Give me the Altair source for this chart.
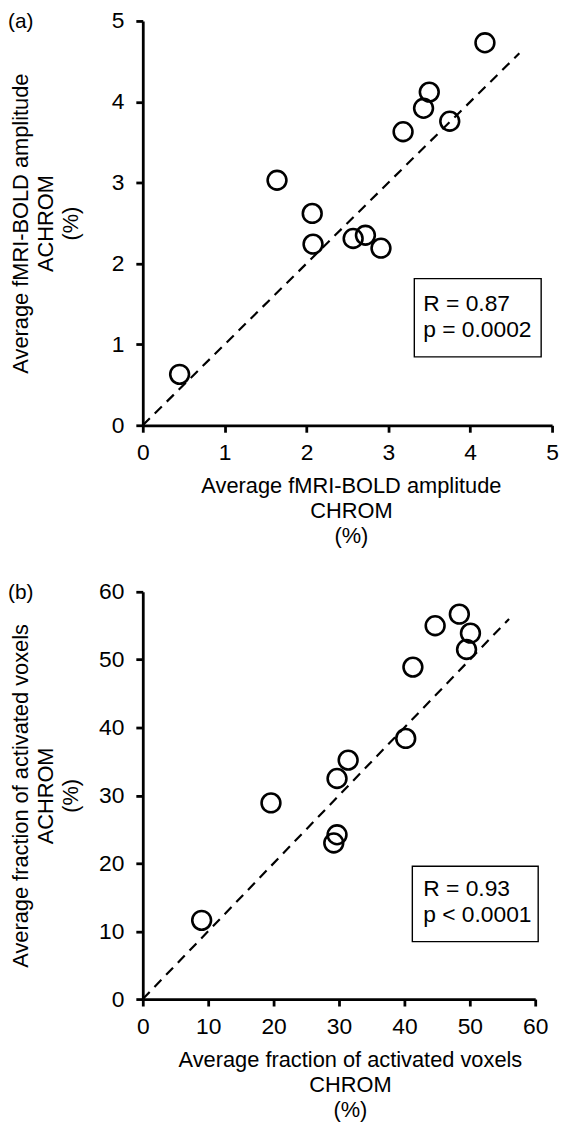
import altair as alt
import pandas as pd

FONT = "Liberation Sans"

# ---------------- data: panel (a) ----------------
a_chrom = [0.45, 1.64, 2.07, 2.08, 2.57, 2.72, 2.91, 3.18, 3.43, 3.50, 3.75, 4.18]
a_achrom = [0.63, 3.03, 2.62, 2.24, 2.31, 2.35, 2.19, 3.63, 3.92, 4.12, 3.76, 4.73]
a_ticks = [0, 1, 2, 3, 4, 5]
a_domain = [0, 5]
a_identity = [0, 4.6]
a_xtitle = ["Average fMRI-BOLD amplitude", "CHROM", "(%)"]
a_ytitle = ["Average fMRI-BOLD amplitude", "ACHROM", "(%)"]
a_stats = ["R = 0.87", "p = 0.0002"]
a_label = "(a)"

# ---------------- data: panel (b) ----------------
b_chrom = [9.0, 19.6, 29.2, 29.7, 29.7, 31.4, 40.2, 41.3, 44.7, 48.4, 50.1, 49.5]
b_achrom = [11.6, 28.9, 23.0, 24.2, 32.5, 35.2, 38.4, 48.9, 55.0, 56.7, 53.9, 51.5]
b_ticks = [0, 10, 20, 30, 40, 50, 60]
b_domain = [0, 60]
b_identity = [0, 56]
b_xtitle = ["Average fraction of activated voxels", "CHROM", "(%)"]
b_ytitle = ["Average fraction of activated voxels", "ACHROM", "(%)"]
b_stats = ["R = 0.93", "p < 0.0001"]
b_label = "(b)"


def axis(ticks, title, orient, tx, ty):
    common = dict(
        values=ticks, format="d", grid=False,
        domainColor="black", domainWidth=2.8,
        tickColor="black", tickWidth=2.8, tickSize=7,
        labelFont=FONT, labelFontSize=23, labelColor="black",
        labelFlush=False, labelOverlap=False,
        title=title, titleFont=FONT, titleFontSize=22,
        titleFontWeight="normal", titleColor="black", titleLineHeight=25,
        titleX=tx, titleY=ty, titleAlign="center", titleBaseline="alphabetic",
    )
    if orient == "x":
        return alt.Axis(labelPadding=10, **common)
    return alt.Axis(labelPadding=12, titleAngle=270, **common)


def panel(xv, yv, ident, ticks, dom, w, h, xtitle, ytitle, stats, label,
          ytx, xtx, box, txt):
    pts = pd.DataFrame({"x": xv, "y": yv})
    ln = pd.DataFrame({"x": ident, "y": ident})
    one = pd.DataFrame({"k": [0]})
    sc = alt.Scale(domain=dom, nice=False, zero=False)
    xenc = alt.X("x:Q", scale=sc, axis=axis(ticks, xtitle, "x", xtx, 68))
    yenc = alt.Y("y:Q", scale=sc, axis=axis(ticks, ytitle, "y", ytx, h / 2))

    line = alt.Chart(ln).mark_line(
        color="black", strokeDash=[10, 7], strokeWidth=2.2
    ).encode(x=xenc, y=yenc)
    points = alt.Chart(pts).mark_point(
        shape="circle", filled=False, size=360, stroke="black",
        strokeWidth=2.6, opacity=1
    ).encode(x="x:Q", y="y:Q")
    rect = alt.Chart(one).mark_rect(
        fill="white", fillOpacity=0, stroke="black", strokeWidth=1.4
    ).encode(
        x=alt.value(box[0]), x2=alt.value(box[1]),
        y=alt.value(box[2]), y2=alt.value(box[3]),
    )
    text = alt.Chart(one).mark_text(
        align="left", baseline="alphabetic", font=FONT, fontSize=23,
        lineHeight=26, color="black"
    ).encode(x=alt.value(txt[0]), y=alt.value(txt[1]), text=alt.value(stats))
    lab = alt.Chart(one).mark_text(
        align="left", baseline="alphabetic", font=FONT, fontSize=21,
        color="black"
    ).encode(x=alt.value(-136), y=alt.value(7), text=alt.value(label))
    return alt.layer(line, points, rect, text, lab).properties(width=w, height=h)


pa = panel(a_chrom, a_achrom, a_identity, a_ticks, a_domain, 413, 408,
           a_xtitle, a_ytitle, a_stats, a_label,
           ytx=-116, xtx=210, box=[274, 402, 260, 339], txt=[283, 293])
pb = panel(b_chrom, b_achrom, b_identity, b_ticks, b_domain, 396, 411,
           b_xtitle, b_ytitle, b_stats, b_label,
           ytx=-116, xtx=209, box=[272, 399, 277, 353], txt=[283, 307])

chart = alt.vconcat(pa, pb, spacing=168, bounds="flush").properties(
    padding={"left": 0, "top": -3, "right": 0, "bottom": 0}
).configure_view(stroke=None)

chart.save("out.html", embed_options={"renderer": "svg", "actions": False})
